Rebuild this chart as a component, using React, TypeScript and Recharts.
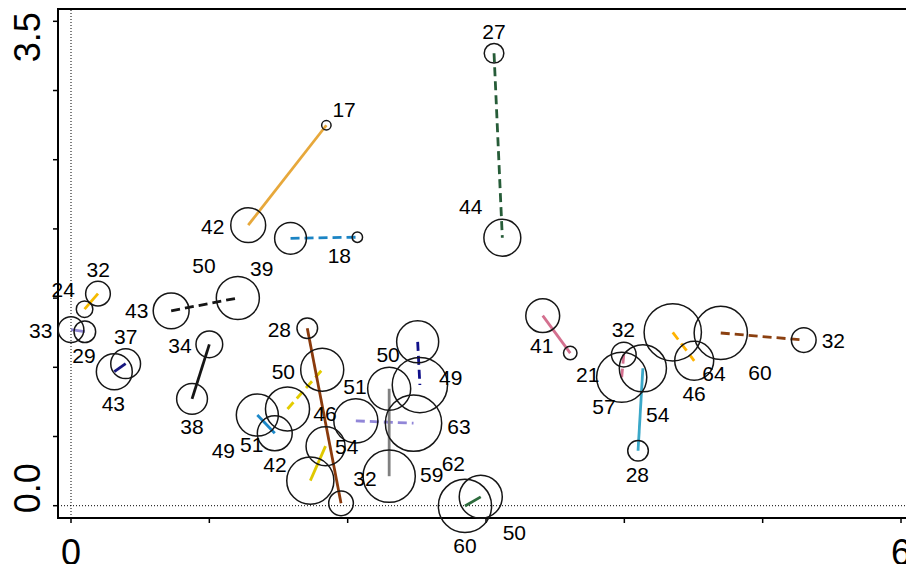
import { ScatterChart, Scatter, XAxis, YAxis, ReferenceLine, ReferenceDot, ReferenceArea } from 'recharts'

// each pair: [x, y, count] for the first and second point
const fromPts: [number, number, number][] = [
  [1.281, 2.027, 42], [1.587, 1.932, 39], [3.058, 3.269, 27], [0.724, 1.408, 43],
  [1.0, 1.166, 34], [0.195, 1.532, 32], [0.0, 1.272, 33], [0.395, 1.026, 37],
  [1.347, 0.655, 49], [1.565, 0.699, 51], [1.708, 1.282, 28], [1.73, 0.181, 54],
  [2.059, 0.613, 51], [2.3, 0.845, 50], [2.506, 1.184, 49], [2.848, -0.002, 60],
  [3.41, 1.373, 41], [3.996, 1.092, 32], [4.134, 0.993, 54], [4.35, 1.253, 64],
  [4.697, 1.248, 60],
]
const toPts: [number, number, number][] = [
  [1.846, 2.749, 17], [2.07, 1.94, 18], [3.118, 1.936, 44], [1.206, 1.501, 50],
  [0.875, 0.772, 38], [0.098, 1.42, 24], [0.1, 1.257, 29], [0.313, 0.968, 43],
  [1.473, 0.523, 42], [1.816, 0.983, 50], [1.952, 0.017, 32], [1.84, 0.43, 46],
  [2.476, 0.596, 63], [2.3, 0.213, 59], [2.522, 0.872, 62], [2.962, 0.064, 50],
  [3.609, 1.103, 21], [3.981, 0.928, 57], [4.099, 0.397, 28], [4.505, 1.047, 46],
  [5.297, 1.197, 32],
]
// where each count label sits
const fromLabelPos: [number, number][] = [
  [1.024, 2.021], [1.379, 1.715], [3.058, 3.425], [0.475, 1.409],
  [0.788, 1.161], [0.197, 1.708], [-0.219, 1.264], [0.395, 1.226],
  [1.101, 0.402], [1.306, 0.439], [1.506, 1.275], [1.993, 0.431],
  [2.053, 0.858], [2.292, 1.089], [2.745, 0.928], [2.848, -0.291],
  [3.403, 1.161], [3.993, 1.27], [4.241, 0.66], [4.648, 0.957],
  [4.981, 0.961],
]
const toLabelPos: [number, number][] = [
  [1.974, 2.864], [1.94, 1.811], [2.889, 2.16], [0.961, 1.739],
  [0.875, 0.571], [-0.056, 1.559], [0.094, 1.082], [0.306, 0.74],
  [1.475, 0.301], [1.535, 0.968], [2.125, 0.198], [1.836, 0.663],
  [2.805, 0.571], [2.608, 0.222], [2.764, 0.306], [3.205, -0.195],
  [3.735, 0.949], [3.853, 0.72], [4.094, 0.227], [4.504, 0.812],
  [5.511, 1.197],
]

const xTicks = [0, 1, 2, 3, 4, 5, 6]
const yTicks = [0, 0.5, 1, 1.5, 2, 2.5, 3, 3.5]

const pairColors = [
  '#E7A83B', '#1B84C4', '#265C38', '#151515', '#151515', '#F5BA00', '#8F86D2',
  '#16167F', '#1C88C9', '#E4CC00', '#8A3A0C', '#E0C800', '#9186D8', '#808080',
  '#10108A', '#2C6B3C', '#D4708F', '#D4708F', '#3BA8C8', '#FFB300', '#8B4010',
]
const pairDashed = [
  false, true, true, true, false, false, false, false, false, true, false,
  false, true, false, true, false, false, true, false, true, true,
]

const X_DOMAIN: [number, number] = [-0.094, 6.065]
const Y_DOMAIN: [number, number] = [-0.0889, 3.589]
const FONT = '"Liberation Sans", Arial, sans-serif'

const points = fromPts.concat(toPts).map(([x, y, n]) => ({ x, y, n }))
const labels = fromPts.concat(toPts).map((p, i) => {
  const pos = i < fromPts.length ? fromLabelPos[i] : toLabelPos[i - fromPts.length]
  return { x: pos[0], y: pos[1], n: p[2] }
})

const radius = (n: number) => 0.51 * (n - 7.8)

const Bubble = (props: any) => (
  <circle cx={props.cx} cy={props.cy} r={radius(props.payload.n)} fill="none" stroke="#161616" strokeWidth={1.5} />
)

const XTick = (props: any) => {
  const v = props.payload.value
  if (v !== 0 && v !== 6) return <g />
  return (
    <text x={props.x} y={props.y + 40} textAnchor="middle" fontSize={36} fontFamily={FONT} fill="#000">
      {v}
    </text>
  )
}

const YTick = (props: any) => {
  const v = props.payload.value
  if (v !== 0 && v !== 3.5) return <g />
  const top = v === 3.5
  return (
    <text
      transform={`translate(${props.x - 11.5},${props.y}) rotate(-90)`}
      x={top ? 9 : -7.6}
      y={0}
      textAnchor={top ? 'end' : 'start'}
      fontSize={36}
      fontFamily={FONT}
      fill="#000"
    >
      {v.toFixed(1)}
    </text>
  )
}

export default function App() {
  return (
    <div style={{ position: 'absolute', left: 0, top: 0, width: 906, height: 564, overflow: 'hidden', background: '#fff' }}>
      <ScatterChart width={920} height={564} margin={{ top: 9, right: 10, bottom: 0, left: 0 }}>
        <XAxis
          type="number" dataKey="x" domain={X_DOMAIN} ticks={xTicks} height={46}
          axisLine={{ stroke: '#000', strokeWidth: 2 }} tickLine={{ stroke: '#000', strokeWidth: 1.5 }}
          tickSize={5} tick={<XTick />} interval={0}
        />
        <YAxis
          type="number" dataKey="y" domain={Y_DOMAIN} ticks={yTicks} width={58}
          axisLine={{ stroke: '#000', strokeWidth: 2 }} tickLine={{ stroke: '#000', strokeWidth: 1.5 }}
          tickSize={5} tick={<YTick />} interval={0}
        />
        <ReferenceArea
          x1={X_DOMAIN[0]} x2={X_DOMAIN[1]} y1={Y_DOMAIN[0]} y2={Y_DOMAIN[1]}
          fill="none" fillOpacity={0} stroke="#000" strokeWidth={2} ifOverflow="visible"
        />
        <ReferenceLine x={0} stroke="#000" strokeWidth={1} strokeDasharray="1 2" ifOverflow="visible" />
        <ReferenceLine y={0} stroke="#000" strokeWidth={1} strokeDasharray="1 2" ifOverflow="visible" />
        <Scatter data={points} shape={<Bubble />} isAnimationActive={false} />
        {fromPts.map((a, i) => (
          <ReferenceLine
            key={'s' + i}
            segment={[{ x: a[0], y: a[1] }, { x: toPts[i][0], y: toPts[i][1] }]}
            stroke={pairColors[i]}
            strokeWidth={2.8}
            strokeDasharray={pairDashed[i] ? '9 5' : undefined}
            ifOverflow="visible"
          />
        ))}
        {labels.map((l, i) => (
          <ReferenceDot
            key={'l' + i}
            x={l.x}
            y={l.y}
            r={0}
            ifOverflow="visible"
            shape={(p: any) => (
              <text x={p.cx} y={p.cy} textAnchor="middle" dominantBaseline="central" fontSize={21} fontFamily={FONT} fill="#000">
                {l.n}
              </text>
            )}
          />
        ))}
      </ScatterChart>
    </div>
  )
}
